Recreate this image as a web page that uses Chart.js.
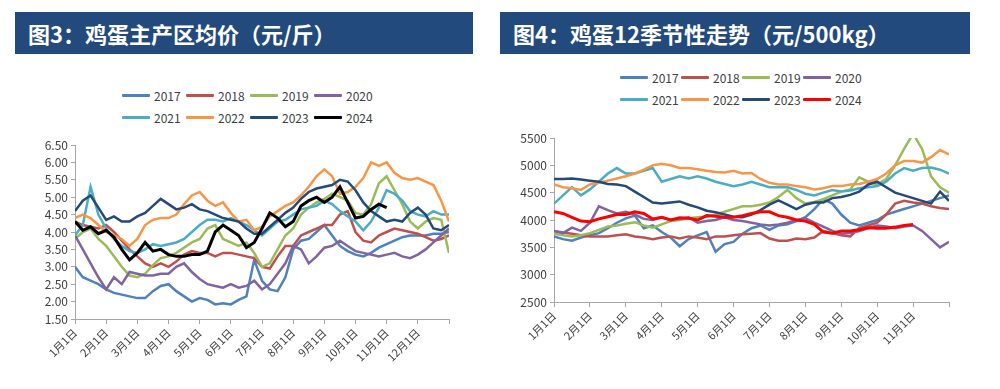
<!DOCTYPE html>
<html>
<head>
<meta charset="utf-8">
<script src="https://cdn.jsdelivr.net/npm/chart.js@4"></script>
<style>
  body { margin: 0; background: #fff; width: 1000px; height: 389px; position: relative; overflow: hidden;
         font-family: "Noto Sans CJK SC", "Liberation Sans", sans-serif; }
  .banner { position: absolute; top: 12px; height: 42px; background: #234a7c; color: #fff;
            font-weight: bold; font-size: 22px; line-height: 42px; box-sizing: border-box; padding-left: 13px; }
  canvas { position: absolute; }
  .legend { position: absolute; display: grid; row-gap: 6px; font-size: 12px; color: #404040; }
  .legend .item { display: flex; align-items: center; height: 16px; }
  .legend .swatch { width: 28px; height: 3px; margin-right: 4px; border-radius: 1px; }
</style>
</head>
<body>
<div class="banner" style="left:15px;width:458px;">图3：鸡蛋主产区均价（元/斤）</div>
<div class="banner" style="left:500px;width:470px;">图4：鸡蛋12季节性走势（元/500kg）</div>
<div class="legend" id="legendL" style="left:122px;top:87px;grid-template-columns:repeat(4,64px);"></div>
<div class="legend" id="legendR" style="left:620px;top:69px;grid-template-columns:repeat(4,61px);"></div>
<canvas id="left" width="475" height="259" style="left:0;top:130px;"></canvas>
<canvas id="right" width="480" height="264" style="left:500px;top:125px;"></canvas>
<script>
// series names and colours
const years = ["2017", "2018", "2019", "2020", "2021", "2022", "2023", "2024"];
const colorsL = ["#4f81bd", "#c0504d", "#9bbb59", "#8064a2", "#4bacc6", "#f79646", "#254a78", "#000000"];
const colorsR = ["#4f81bd", "#c0504d", "#9bbb59", "#8064a2", "#4bacc6", "#f79646", "#254a78", "#ff0000"];

// month tick labels
const monthsL = ["1月1日", "2月1日", "3月1日", "4月1日", "5月1日", "6月1日", "7月1日", "8月1日", "9月1日", "10月1日", "11月1日", "12月1日"];
const monthsR = ["1月1日", "2月1日", "3月1日", "4月1日", "5月1日", "6月1日", "7月1日", "8月1日", "9月1日", "10月1日", "11月1日"];

// 图3: 元/斤, one value per quarter month from Jan 1
const egg2017 = [3.0, 2.7, 2.6, 2.5, 2.35, 2.25, 2.2, 2.15, 2.1, 2.1, 2.3, 2.45, 2.5, 2.3, 2.15, 2.0, 2.1, 2.05, 1.92, 1.95, 1.92, 2.05, 2.15, 3.2, 2.6, 2.35, 2.3, 2.7, 3.5, 3.75, 3.8, 4.0, 4.2, 3.9, 3.6, 3.45, 3.35, 3.3, 3.4, 3.55, 3.65, 3.75, 3.85, 3.9, 3.9, 3.9, 3.95, 3.95, 4.0];
const egg2018 = [4.3, 4.2, 4.15, 4.1, 4.2, 4.0, 3.75, 3.5, 3.3, 3.1, 3.0, 3.1, 3.0, 3.15, 3.35, 3.45, 3.4, 3.4, 3.3, 3.4, 3.4, 3.35, 3.3, 3.25, 3.0, 2.95, 3.3, 3.6, 3.6, 3.9, 4.0, 4.1, 4.2, 4.2, 4.5, 4.6, 4.0, 3.75, 3.7, 3.9, 4.0, 4.1, 4.05, 4.0, 3.95, 3.85, 3.75, 3.8, 3.9];
const egg2019 = [3.8, 4.0, 4.1, 3.8, 3.6, 3.3, 3.0, 2.75, 2.7, 2.8, 3.05, 3.25, 3.3, 3.4, 3.55, 3.7, 3.8, 4.1, 4.2, 3.8, 3.7, 3.6, 3.7, 3.4, 3.0, 3.1, 3.5, 3.9, 4.1, 4.5, 4.7, 4.85, 4.95, 5.1, 5.0, 4.9, 4.55, 4.5, 4.8, 5.4, 5.6, 5.2, 4.8, 4.3, 4.1, 4.3, 4.4, 4.35, 3.4];
const egg2020 = [3.9, 3.5, 3.1, 2.7, 2.35, 2.7, 2.5, 2.85, 2.8, 2.75, 2.75, 2.8, 2.8, 3.0, 3.1, 2.85, 2.65, 2.5, 2.45, 2.4, 2.5, 2.4, 2.45, 2.6, 2.35, 2.5, 2.8, 3.1, 3.6, 3.5, 3.1, 3.3, 3.55, 3.6, 3.75, 3.6, 3.45, 3.4, 3.35, 3.3, 3.35, 3.4, 3.3, 3.25, 3.35, 3.5, 3.7, 3.9, 4.1];
const egg2021 = [3.9, 4.2, 5.3, 4.5, 4.1, 3.8, 3.6, 3.45, 3.4, 3.5, 3.65, 3.6, 3.65, 3.7, 3.8, 4.0, 4.2, 4.35, 4.35, 4.3, 4.4, 4.3, 4.2, 4.05, 3.9, 4.1, 4.3, 4.35, 4.5, 4.65, 4.7, 4.75, 4.9, 4.8, 4.6, 4.45, 4.3, 4.05, 4.3, 4.7, 5.2, 5.1, 4.9, 4.6, 4.5, 4.45, 4.6, 4.5, 4.5];
const egg2022 = [4.4, 4.5, 4.4, 4.2, 4.0, 3.9, 3.8, 3.6, 3.8, 4.2, 4.35, 4.4, 4.4, 4.5, 4.8, 5.05, 5.15, 4.9, 4.75, 4.85, 4.55, 4.3, 4.35, 4.05, 4.15, 4.45, 4.6, 4.75, 4.85, 5.05, 5.3, 5.6, 5.8, 5.6, 5.1, 5.15, 5.3, 5.55, 6.0, 5.9, 6.0, 5.7, 5.55, 5.5, 5.55, 5.45, 5.35, 4.9, 4.3];
const egg2023 = [4.6, 4.9, 5.05, 4.7, 4.35, 4.45, 4.3, 4.3, 4.45, 4.55, 4.75, 4.95, 4.8, 4.65, 4.7, 4.8, 4.65, 4.6, 4.5, 4.4, 4.35, 4.3, 4.1, 3.95, 3.95, 4.15, 4.35, 4.55, 4.7, 4.95, 5.15, 5.25, 5.3, 5.35, 5.5, 5.45, 5.2, 4.85, 4.6, 4.45, 4.3, 4.35, 4.3, 4.55, 4.7, 4.5, 4.1, 4.05, 4.2];
const egg2024 = [4.3, 4.05, 4.15, 3.95, 4.05, 3.85, 3.5, 3.2, 3.4, 3.7, 3.45, 3.5, 3.35, 3.3, 3.3, 3.35, 3.35, 3.45, 4.0, 4.2, 4.05, 3.9, 3.55, 3.7, 4.1, 4.55, 4.4, 4.15, 4.3, 4.75, 4.9, 5.0, 4.85, 5.0, 5.3, 4.85, 4.4, 4.45, 4.65, 4.8, 4.7];

// 图4: 元/500kg, one value per quarter month from Jan 1
const sea2017 = [3700, 3650, 3620, 3680, 3720, 3760, 3850, 3950, 4030, 4080, 3850, 3900, 3780, 3680, 3520, 3650, 3720, 3780, 3420, 3560, 3600, 3750, 3850, 3900, 3820, 3900, 3920, 3980, 4050, 4200, 4380, 4300, 4100, 3950, 3900, 3950, 4000, 4100, 4150, 4200, 4250, 4300, 4350, 4400, 4450];
const sea2018 = [3800, 3770, 3750, 3720, 3700, 3700, 3700, 3720, 3740, 3700, 3680, 3650, 3680, 3700, 3660, 3700, 3680, 3650, 3700, 3700, 3720, 3740, 3750, 3760, 3660, 3620, 3620, 3660, 3650, 3680, 3800, 3760, 3720, 3700, 3850, 3900, 3950, 4100, 4300, 4350, 4320, 4300, 4250, 4220, 4200];
const sea2019 = [3750, 3720, 3700, 3720, 3760, 3820, 3880, 3900, 3930, 3960, 3900, 3860, 3920, 3980, 4000, 4030, 4050, 4060, 4100, 4150, 4200, 4250, 4250, 4280, 4320, 4420, 4550, 4400, 4300, 4330, 4380, 4450, 4520, 4560, 4780, 4700, 4650, 4750, 5000, 5300, 5580, 5300, 4800, 4600, 4500];
const sea2020 = [3800, 3760, 3860, 3800, 3950, 4250, 4180, 4120, 4150, 4100, 4020, 4000, 4050, 4000, 4020, 4050, 3950, 3980, 4000, 4050, 4000, 3980, 3950, 3920, 3900, 3920, 3950, 4000, 4030, 3950, 3880, 3800, 3750, 3760, 3800, 3850, 3900, 3880, 3850, 3880, 3900, 3800, 3650, 3500, 3600];
const sea2021 = [4300, 4450, 4600, 4450, 4560, 4700, 4850, 4950, 4850, 4850, 4900, 4950, 4700, 4750, 4800, 4760, 4800, 4760, 4700, 4660, 4620, 4650, 4700, 4650, 4600, 4600, 4600, 4550, 4480, 4450, 4500, 4550, 4520, 4540, 4580, 4600, 4620, 4700, 4850, 4950, 4900, 4950, 4960, 4920, 4850];
const sea2022 = [4650, 4600, 4580, 4550, 4650, 4680, 4720, 4760, 4800, 4850, 4920, 5000, 5030, 5000, 4950, 4950, 4930, 4900, 4880, 4870, 4900, 4850, 4860, 4750, 4680, 4650, 4650, 4620, 4600, 4560, 4580, 4620, 4620, 4650, 4660, 4700, 4750, 4850, 5000, 5080, 5080, 5050, 5150, 5280, 5200];
const sea2023 = [4750, 4750, 4760, 4740, 4720, 4700, 4660, 4650, 4620, 4520, 4420, 4320, 4300, 4320, 4340, 4280, 4230, 4170, 4140, 4100, 4060, 4050, 4100, 4180, 4280, 4360, 4280, 4200, 4280, 4320, 4320, 4400, 4420, 4460, 4520, 4650, 4700, 4600, 4500, 4450, 4400, 4350, 4300, 4520, 4350];
const sea2024 = [4150, 4120, 4050, 3980, 3970, 4020, 4060, 4100, 4100, 4150, 4120, 4020, 4050, 4000, 4040, 4030, 4000, 4080, 4070, 4050, 4050, 4080, 4120, 4150, 4150, 4080, 4050, 4000, 3980, 3920, 3780, 3760, 3800, 3800, 3820, 3860, 3850, 3850, 3870, 3900, 3920];

const seriesL = [egg2017, egg2018, egg2019, egg2020, egg2021, egg2022, egg2023, egg2024];
const seriesR = [sea2017, sea2018, sea2019, sea2020, sea2021, sea2022, sea2023, sea2024];

Chart.defaults.font.family = '"Noto Sans CJK SC", "Liberation Sans", sans-serif';
Chart.defaults.color = "#404040";

function buildLegend(id, colors) {
  const box = document.getElementById(id);
  years.forEach((y, i) => {
    const item = document.createElement("div");
    item.className = "item";
    item.innerHTML = '<span class="swatch" style="background:' + colors[i] + '"></span>' + y;
    box.appendChild(item);
  });
}
buildLegend("legendL", colorsL);
buildLegend("legendR", colorsR);

function makeChart(id, series, colors, months, yMin, yMax, yStep, yFmt, pad, yWidth, xHeight) {
  const datasets = series.map((vals, i) => ({
    label: years[i],
    data: vals.map((v, k) => ({ x: k / 4, y: v })),
    borderColor: colors[i],
    borderWidth: i === 7 ? 3 : 2.5,
    pointRadius: 0,
    tension: 0,
    order: series.length - 1 - i,
  }));
  const axisColor = "#a6a6a6";
  return new Chart(document.getElementById(id), {
    type: "line",
    data: { datasets },
    options: {
      responsive: false,
      animation: false,
      devicePixelRatio: 1,
      layout: { padding: pad },
      plugins: { legend: { display: false }, tooltip: { enabled: false } },
      scales: {
        x: {
          type: "linear",
          min: 0,
          max: months.length,
          afterFit: (s) => { s.height = xHeight; },
          grid: { drawOnChartArea: false, color: axisColor, tickLength: 5 },
          border: { color: axisColor },
          ticks: {
            stepSize: 1,
            autoSkip: false,
            minRotation: 45,
            maxRotation: 45,
            padding: 2,
            font: { size: 11 },
            callback: (v) => months[v] || "",
          },
        },
        y: {
          min: yMin,
          max: yMax,
          afterFit: (s) => { s.width = yWidth; },
          grid: { drawOnChartArea: false, color: axisColor, tickLength: 4 },
          border: { color: axisColor },
          ticks: { stepSize: yStep, padding: 3, font: { size: 12 }, callback: yFmt },
        },
      },
    },
  });
}

makeChart("left", seriesL, colorsL, monthsL, 1.5, 6.5, 0.5, (v) => v.toFixed(2),
  { top: 15, right: 26, left: 0, bottom: 0 }, 75, 70);
makeChart("right", seriesR, colorsR, monthsR, 2500, 5500, 500, (v) => String(v),
  { top: 13, right: 31, left: 0, bottom: 0 }, 54, 87);
</script>
</body>
</html>
